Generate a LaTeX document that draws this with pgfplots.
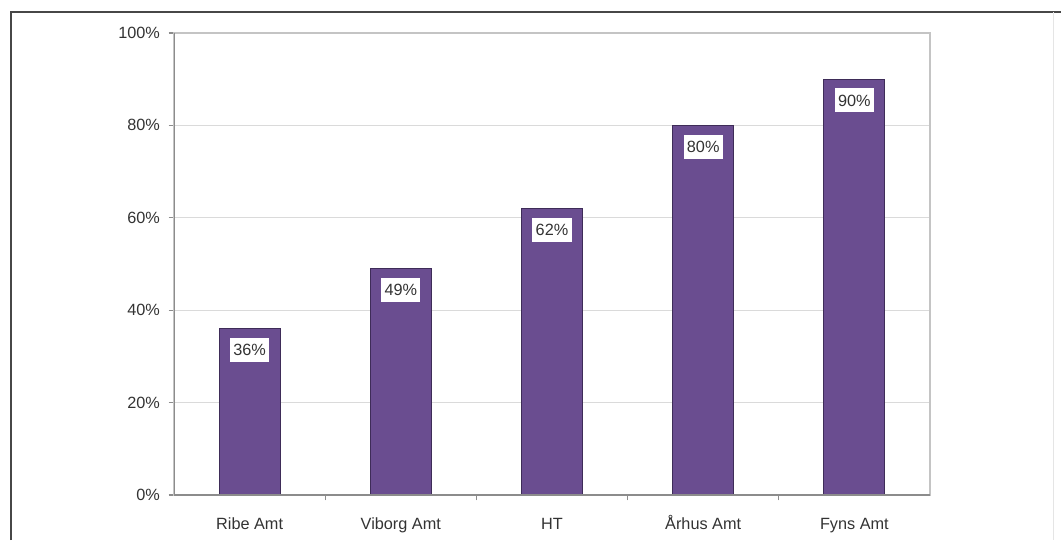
\documentclass[border=0pt]{standalone}
\usepackage{pgfplots}
\pgfplotsset{compat=1.18}
\usepackage{fontspec}
\setmainfont{Liberation Sans}
\definecolor{barfill}{HTML}{6A4D90}
\definecolor{baredge}{HTML}{3E2C58}
\definecolor{gridc}{HTML}{DADADA}
\definecolor{boxc}{HTML}{C4C4C4}
\definecolor{axisc}{HTML}{8C8C8C}
\definecolor{txt}{HTML}{333333}
\definecolor{framec}{HTML}{474747}

\begin{document}
\begin{tikzpicture}
  \useasboundingbox (0pt,0pt) rectangle (795.75pt,405pt);
  % outer frame (top and left edges, faint right edge)
  \draw[framec, line width=1.6pt] (8.25pt,0pt) -- (8.25pt,396pt) -- (795.75pt,396pt);
  \draw[gridc!70, line width=0.6pt] (789.75pt,0pt) -- (789.75pt,396pt);
  \begin{axis}[
    at={(130.5pt,33.75pt)}, anchor=south west,
    scale only axis, width=567pt, height=346.5pt,
    ybar, bar width=45.75pt,
    xmin=-0.5, xmax=4.5, ymin=0, ymax=100,
    xtick={0,...,4},
    xticklabels={Ribe Amt, Viborg Amt, HT, Århus Amt, Fyns Amt},
    minor xtick={0.5,1.5,2.5,3.5},
    ytick={0,20,...,100},
    yticklabel={\pgfmathprintnumber{\tick}\%},
    /pgf/number format/assume math mode=true,
    ymajorgrids, grid style={gridc, line width=0.7pt},
    axis line style={boxc, line width=0.8pt},
    tick align=outside, tick pos=left,
    major x tick style={draw=none},
    minor x tick style={axisc, line width=0.8pt},
    major y tick style={axisc, line width=0.8pt},
    major tick length=4pt, minor tick length=4pt,
    tick label style={font=\fontsize{12.2}{14}\selectfont, text=txt},
    yticklabel style={xshift=-3pt},
    xticklabel style={yshift=-9pt, text height=9pt, text depth=2.5pt},
    nodes near coords={\pgfmathprintnumber{\pgfplotspointmeta}\%},
    every node near coord/.append style={
      font=\fontsize{12.2}{14}\selectfont, text=txt,
      fill=white, inner xsep=2.5pt, inner ysep=0pt,
      minimum height=18pt, text depth=0pt,
      anchor=north, yshift=-6.5pt},
  ]
    \addplot[fill=barfill, draw=baredge, line width=0.8pt]
      coordinates {(0,36) (1,49) (2,62) (3,80) (4,90)};
    % darker left and bottom axis lines
    \draw[axisc, line width=0.8pt] (rel axis cs:0,1) -- (rel axis cs:0,0) -- (rel axis cs:1,0);
  \end{axis}
\end{tikzpicture}
\end{document}
